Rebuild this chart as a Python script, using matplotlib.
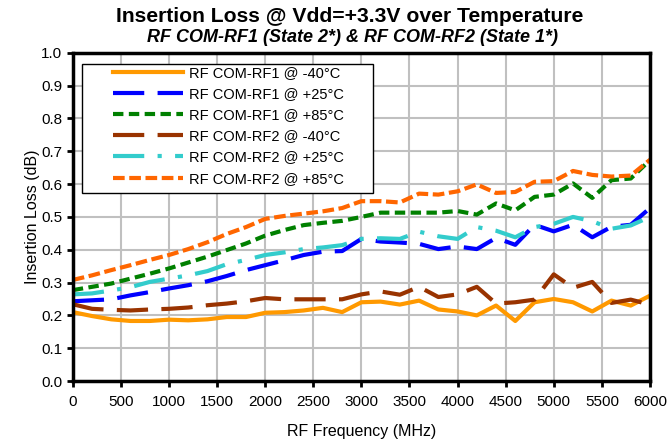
import matplotlib
matplotlib.use("Agg")
import matplotlib.pyplot as plt
from matplotlib.patches import Rectangle

plt.rcParams['font.family'] = ['Liberation Sans', 'DejaVu Sans']

# frequency points (MHz)
freq = list(range(0, 6001, 200))

# insertion loss (dB)
rf1_m40 = [0.210, 0.198, 0.188, 0.183, 0.183, 0.187, 0.185, 0.188, 0.195, 0.195,
           0.208, 0.210, 0.215, 0.223, 0.210, 0.240, 0.242, 0.233, 0.245, 0.218,
           0.212, 0.200, 0.230, 0.183, 0.240, 0.250, 0.240, 0.212, 0.245, 0.230, 0.260]
rf1_p25 = [0.243, 0.246, 0.249, 0.261, 0.271, 0.282, 0.292, 0.304, 0.320, 0.338,
           0.353, 0.368, 0.384, 0.394, 0.396, 0.433, 0.425, 0.422, 0.418, 0.402,
           0.410, 0.402, 0.436, 0.415, 0.476, 0.456, 0.476, 0.438, 0.470, 0.476, 0.527]
rf1_p85 = [0.277, 0.287, 0.297, 0.312, 0.327, 0.343, 0.361, 0.379, 0.399, 0.419,
           0.443, 0.460, 0.475, 0.482, 0.488, 0.500, 0.513, 0.513, 0.513, 0.513,
           0.518, 0.507, 0.541, 0.520, 0.561, 0.568, 0.602, 0.558, 0.612, 0.617, 0.673]
rf2_m40 = [0.234, 0.220, 0.217, 0.215, 0.218, 0.220, 0.224, 0.231, 0.236, 0.243,
           0.253, 0.249, 0.249, 0.249, 0.249, 0.264, 0.273, 0.263, 0.287, 0.256,
           0.264, 0.287, 0.236, 0.240, 0.248, 0.325, 0.284, 0.302, 0.238, 0.248, 0.233]
rf2_p25 = [0.264, 0.267, 0.276, 0.286, 0.302, 0.312, 0.322, 0.335, 0.356, 0.369,
           0.384, 0.392, 0.402, 0.407, 0.414, 0.433, 0.435, 0.433, 0.455, 0.441,
           0.433, 0.469, 0.458, 0.438, 0.469, 0.479, 0.500, 0.487, 0.464, 0.474, 0.500]
rf2_p85 = [0.308, 0.322, 0.338, 0.353, 0.369, 0.384, 0.402, 0.423, 0.448, 0.469,
           0.494, 0.503, 0.510, 0.517, 0.527, 0.548, 0.548, 0.544, 0.571, 0.568,
           0.578, 0.599, 0.573, 0.576, 0.607, 0.609, 0.640, 0.628, 0.623, 0.626, 0.674]

labels = ["RF COM-RF1 @ -40°C", "RF COM-RF1 @ +25°C", "RF COM-RF1 @ +85°C",
          "RF COM-RF2 @ -40°C", "RF COM-RF2 @ +25°C", "RF COM-RF2 @ +85°C"]

fig = plt.figure(figsize=(6.68, 4.4), dpi=100)
ax = fig.add_axes([0.109, 0.134, 0.864, 0.746])

lw = 3
ax.plot(freq, rf1_m40, color="#FF9900", lw=lw, label=labels[0])
ax.plot(freq, rf1_p25, color="#0000FF", lw=lw, dashes=(7.5, 3.2), dash_capstyle="butt", label=labels[1])
ax.plot(freq, rf1_p85, color="#008000", lw=lw, dashes=(2.5, 1.3), dash_capstyle="butt", label=labels[2])
ax.plot(freq, rf2_m40, color="#993300", lw=lw, dashes=(7.5, 3.2), dash_capstyle="butt", label=labels[3])
ax.plot(freq, rf2_p25, color="#33CCCC", lw=lw, dashes=(7.5, 3.2, 1, 3.2), dash_capstyle="butt", label=labels[4])
ax.plot(freq, rf2_p85, color="#FF6600", lw=lw, dashes=(2.8, 1.1), dash_capstyle="butt", label=labels[5])

ax.set_xlim(0, 6000)
ax.set_ylim(0, 1.0)
ax.set_xticks(range(0, 6001, 500))
ax.set_yticks([i / 10 for i in range(11)])
ax.yaxis.set_major_formatter(matplotlib.ticker.FormatStrFormatter('%.1f'))
ax.grid(True, color="#C0C0C0", lw=1.5)
ax.set_axisbelow(True)
for s in ax.spines.values():
    s.set_linewidth(2.5)
ax.tick_params(direction="out", length=4, width=2, labelsize=11)
ax.tick_params(axis="x", pad=6)

ax.set_xlabel("RF Frequency (MHz)", fontsize=11.5, labelpad=11)
ax.set_ylabel("Insertion Loss (dB)", fontsize=11.5, labelpad=1)

fig.text(0.524, 0.962, "Insertion Loss @ Vdd=+3.3V over Temperature",
         ha="center", va="center", fontsize=15.2, fontweight="bold")
fig.text(0.527, 0.915, "RF COM-RF1 (State 2*) & RF COM-RF2 (State 1*)",
         ha="center", va="center", fontsize=13, fontweight="bold", style="italic")

# legend box
ax.add_patch(Rectangle((0.0156, 0.573), 0.504, 0.393, transform=ax.transAxes,
                       facecolor="white", edgecolor="black", lw=1, zorder=3))
leg = ax.legend(loc="upper left", bbox_to_anchor=(0.069, 0.96), fontsize=10.5,
                handlelength=4.8, frameon=False, borderpad=0, borderaxespad=0,
                labelspacing=0.49, handletextpad=0.42)
leg.set_zorder(4)

fig.savefig("out.png", dpi=100)
